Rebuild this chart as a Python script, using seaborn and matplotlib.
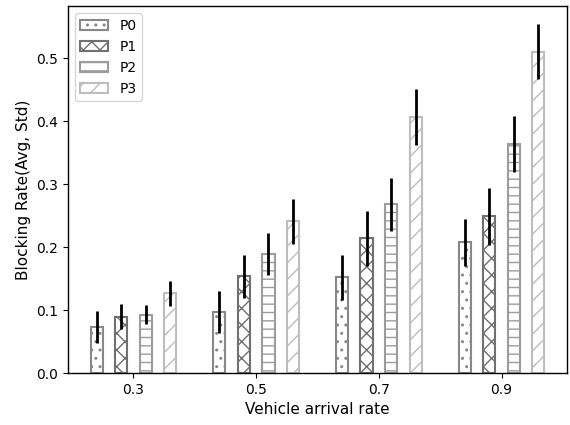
import matplotlib
matplotlib.use("Agg")
import matplotlib.pyplot as plt
import seaborn as sns
import pandas as pd

# Arrival rates (x categories) and policies (hue)
rates = ["0.3", "0.5", "0.7", "0.9"]
policies = ["P0", "P1", "P2", "P3"]

# Mean blocking rate per policy
p0_avg = [0.073, 0.097, 0.152, 0.208]
p1_avg = [0.090, 0.154, 0.214, 0.249]
p2_avg = [0.093, 0.189, 0.268, 0.364]
p3_avg = [0.127, 0.241, 0.407, 0.511]

# Standard deviation per policy
p0_std = [0.025, 0.034, 0.036, 0.037]
p1_std = [0.020, 0.034, 0.043, 0.045]
p2_std = [0.015, 0.033, 0.042, 0.044]
p3_std = [0.020, 0.036, 0.044, 0.044]

avgs = [p0_avg, p1_avg, p2_avg, p3_avg]
stds = [p0_std, p1_std, p2_std, p3_std]

rows = []
for pol, av in zip(policies, avgs):
    for r, v in zip(rates, av):
        rows.append({"rate": r, "policy": pol, "value": v})
df = pd.DataFrame(rows)

sns.set_theme(style="ticks")
plt.rcParams["font.family"] = ["DejaVu Sans"]
plt.rcParams.update({
    "axes.labelsize": 11,
    "xtick.labelsize": 10,
    "ytick.labelsize": 10,
    "legend.fontsize": 10,
    "axes.edgecolor": "black",
    "axes.linewidth": 1.0,
    "xtick.color": "black",
    "ytick.color": "black",
    "xtick.major.size": 3.5,
    "ytick.major.size": 3.5,
    "xtick.major.width": 0.8,
    "ytick.major.width": 0.8,
    "text.color": "black",
    "axes.labelcolor": "black",
    "hatch.linewidth": 1.0,
})

dpi = 100
fig, ax = plt.subplots(figsize=(5.7, 4.25), dpi=dpi)
fig.subplots_adjust(left=0.119, right=0.995, top=0.985, bottom=0.122)

sns.barplot(data=df, x="rate", y="value", hue="policy", order=rates,
            hue_order=policies, color="white", gap=0.5, errorbar=None,
            legend=False, ax=ax)

hatches = ["..", "xx", "--", "//"]
edges = ["#888888", "#707070", "#9c9c9c", "#bdbdbd"]

for cont, h, ec, sd in zip(ax.containers, hatches, edges, stds):
    xs, ys = [], []
    for bar in cont:
        bar.set_facecolor("white")
        bar.set_edgecolor(ec)
        bar.set_hatch(h)
        bar.set_linewidth(1.5)
        xs.append(bar.get_x() + bar.get_width() / 2)
        ys.append(bar.get_height())
    ax.errorbar(xs, ys, yerr=sd, fmt="none", ecolor="black",
                elinewidth=2, capsize=0, zorder=5)

ax.legend(ax.containers, policies, loc="upper left", frameon=True,
          fancybox=True, edgecolor="#cccccc", handlelength=2.0)

ax.set_ylim(bottom=0)
ax.margins(x=0.05)
ax.set_xlabel("Vehicle arrival rate")
ax.set_ylabel("Blocking Rate(Avg, Std)")
for s in ax.spines.values():
    s.set_visible(True)

fig.savefig("out.png", dpi=dpi)
